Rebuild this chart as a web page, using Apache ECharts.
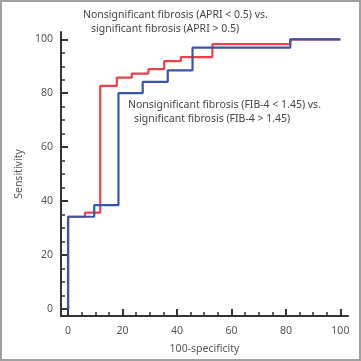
<!DOCTYPE html>
<html>
<head>
<meta charset="utf-8">
<script src="https://cdn.jsdelivr.net/npm/echarts@6/dist/echarts.min.js"></script>
<style>
  html, body { margin: 0; padding: 0; background: #fff; }
  #chart { width: 361px; height: 361px; }
  #frame { position: absolute; left: 0; top: 0; width: 361px; height: 361px; box-sizing: border-box;
           border: 2px solid #a0a0a0; pointer-events: none; }
</style>
</head>
<body>
<div id="chart"></div>
<div id="frame"></div>
<script>
// ROC points (100-specificity, sensitivity)
var apriX = [0, 0, 6.2, 11.8, 17.9, 23.4, 29.5, 35.3, 41.4, 53, 81.6, 100];
var apriY = [0, 34.2, 35.7, 82.7, 85.8, 87.3, 88.9, 91.9, 93.4, 98.2, 100, 100];
var fibX = [0, 0, 9.6, 18.5, 27.4, 36.6, 45.7, 81.6, 100];
var fibY = [0, 34.2, 38.5, 80, 84.2, 88.5, 96.9, 100, 100];
var majorTicks = [0, 20, 40, 60, 80, 100];
var minorTicks = [];
for (var t = 0; t <= 100; t += 5) minorTicks.push(t);

var fontFam = 'Noto Sans';
var pairs = function (xs, ys) { return xs.map(function (x, i) { return [x, ys[i]]; }); };

var chart = echarts.init(document.getElementById('chart'), null, { renderer: 'canvas' });

var axisBase = function (isMajor, pos) {
  return {
    type: 'value',
    position: pos,
    offset: 0,
    min: -2.6,
    max: 102.8,
    splitLine: { show: false },
    axisLine: { show: !isMajor, onZero: false, lineStyle: { color: '#333', width: 2 } },
    axisTick: {
      show: true, inside: true, length: isMajor ? 7 : 4,
      customValues: isMajor ? majorTicks : minorTicks,
      lineStyle: { color: '#333', width: isMajor ? 2 : 1.5 }
    },
    axisLabel: {
      show: isMajor, customValues: majorTicks, color: '#555',
      fontFamily: fontFam, fontSize: 10.5, margin: pos === 'bottom' ? 10 : 8
    }
  };
};

var x0 = axisBase(false, 'bottom'), x1 = axisBase(true, 'bottom');
x1.name = '100-specificity';
x1.nameLocation = 'middle';
x1.nameGap = 28;
x1.nameTextStyle = { color: '#555', fontFamily: fontFam, fontSize: 10.5 };
var y0 = axisBase(false, 'left'), y1 = axisBase(true, 'left');
y0.max = 102.7; y1.max = 102.7;
y1.name = 'Sensitivity';
y1.nameLocation = 'middle';
y1.nameGap = 34;
y1.nameTextStyle = { color: '#555', fontFamily: fontFam, fontSize: 10.5 };

chart.setOption({
  animation: false,
  grid: { left: 61, right: 13, top: 32, bottom: 45, containLabel: false },
  xAxis: [x0, x1],
  yAxis: [y0, y1],
  series: [
    { name: 'APRI', type: 'line', step: 'end', showSymbol: false, symbol: 'none',
      data: pairs(apriX, apriY), lineStyle: { color: '#e8434c', width: 2.2 }, z: 2 },
    { name: 'FIB-4', type: 'line', step: 'end', showSymbol: false, symbol: 'none',
      data: pairs(fibX, fibY), lineStyle: { color: '#3b55a6', width: 2.2 }, z: 3 }
  ],
  graphic: [
    { type: 'text', left: 83, top: 10, style: { text: 'Nonsignificant fibrosis (APRI < 0.5) vs.', fill: '#444', font: '10.5px "' + fontFam + '"' } },
    { type: 'text', left: 91, top: 24, style: { text: 'significant fibrosis (APRI > 0.5)', fill: '#444', font: '10.5px "' + fontFam + '"' } },
    { type: 'text', left: 128, top: 100, style: { text: 'Nonsignificant fibrosis (FIB-4 < 1.45) vs.', fill: '#444', font: '10.5px "' + fontFam + '"' } },
    { type: 'text', left: 134, top: 114, style: { text: 'significant fibrosis (FIB-4 > 1.45)', fill: '#444', font: '10.5px "' + fontFam + '"' } }
  ]
});
</script>
</body>
</html>
